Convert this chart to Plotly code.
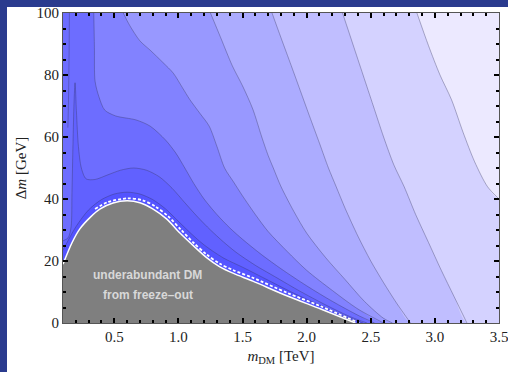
import plotly.graph_objects as go

# ---------------- data ----------------
XMIN, XMAX = 0.1, 3.5
YMIN, YMAX = 0.0, 100.0

# boundary of the underabundant (grey) region
x_gray = [0.1, 0.17, 0.23, 0.31, 0.39, 0.49, 0.6, 0.7, 0.8, 0.91, 1.01, 1.12, 1.22, 1.32, 1.43, 1.58, 1.85, 2.11, 2.38]
y_gray = [19, 25.9, 30.3, 34, 36.8, 38.7, 39.4, 38.8, 36.8, 33.5, 29.1, 24.8, 21.1, 18.2, 16.0, 13.5, 8.7, 4.5, 0]

# dashed white curve just above it
x_dash = [0.35, 0.45, 0.6, 0.72, 0.82, 0.92, 1.02, 1.12, 1.22, 1.32, 1.43, 1.58, 1.85, 2.11, 2.41]
y_dash = [36.8, 39.0, 40.2, 39.6, 37.6, 34.4, 30.1, 25.8, 22.1, 19.2, 17.0, 14.6, 9.7, 5.4, 0]

# contour levels, from the grey region outwards
x_lvl1 = [0.1, 0.2, 0.3, 0.4, 0.5, 0.6, 0.7, 0.8, 0.9, 1.0, 1.1, 1.2, 1.35, 1.5, 1.7, 1.9, 2.1, 2.3, 2.44]
y_lvl1 = [23.5, 31, 36.5, 39.8, 41.6, 42.2, 41.6, 39.8, 36.8, 32.8, 28.8, 25.2, 21.0, 18.0, 13.8, 9.6, 5.8, 2.2, 0]

x_lvl2 = [0.1, 0.14, 0.163, 0.17, 0.178, 0.186, 0.194, 0.205, 0.22, 0.243, 0.28, 0.35, 0.45, 0.55, 0.65, 0.75, 0.85, 0.95, 1.05, 1.15, 1.25, 1.35, 1.45, 1.6, 1.75, 1.95, 2.15, 2.33, 2.47]
y_lvl2 = [26.5, 27.5, 31, 42, 58, 71, 77.5, 68, 57, 50, 46.5, 46.3, 47.8, 49.3, 50, 49.3, 47.2, 43.5, 38.8, 34.2, 30, 26.2, 22.8, 18.6, 15, 10.2, 5.8, 2.2, 0]

x_lvl3 = [0.34, 0.345, 0.35, 0.38, 0.425, 0.51, 0.67, 0.78, 0.9, 0.98, 1.05, 1.12, 1.2, 1.3, 1.4, 1.5, 1.65, 1.8, 2.0, 2.2, 2.4, 2.53]
y_lvl3 = [100, 89, 78, 73, 68.7, 66.8, 65.5, 63.5, 59, 54.8, 50, 45, 40, 35, 30.7, 27, 22, 17.5, 12, 7, 2.5, 0]

x_lvl4 = [0.57, 0.62, 0.7, 0.78, 0.88, 0.96, 1.03, 1.09, 1.17, 1.24, 1.3, 1.36, 1.43, 1.5, 1.6, 1.7, 1.85, 2.0, 2.2, 2.4, 2.6]
y_lvl4 = [100, 96, 91, 88, 84, 80.6, 76, 72, 67.5, 63.5, 57, 50, 45.5, 41, 35, 29.5, 23, 17, 10.5, 4.5, 0]

x_lvl5 = [1.25, 1.33, 1.42, 1.5, 1.58, 1.65, 1.7, 1.74, 1.8, 1.9, 2.0, 2.15, 2.3, 2.45, 2.6, 2.67]
y_lvl5 = [100, 92, 83, 76.5, 69, 60, 54, 50, 44, 36, 29, 21, 14, 7, 1.5, 0]

x_lvl6 = [1.73, 1.8, 1.88, 1.95, 2.02, 2.1, 2.17, 2.23, 2.3, 2.4, 2.5, 2.6, 2.7, 2.81]
y_lvl6 = [100, 92, 83, 75, 67, 58, 50, 44, 37, 28, 20, 13, 6.5, 0]

x_lvl7 = [2.28, 2.36, 2.44, 2.52, 2.6, 2.68, 2.76, 2.85, 2.95, 3.05, 3.15, 3.25]
y_lvl7 = [100, 90, 80, 70, 60, 51, 44, 35, 26, 17, 8.5, 0]

x_lvl8 = [2.86, 2.95, 3.04, 3.13, 3.22, 3.31, 3.41, 3.5]
y_lvl8 = [100, 89.5, 80, 72, 61.5, 52, 44, 40]

# thin contour line near the left edge
x_thin = [0.15, 0.147, 0.143, 0.138]
y_thin = [100, 85, 72, 63]

band_colors = ["#5454ff", "#6161ff", "#6d6dff", "#8282ff", "#9898ff",
               "#acacff", "#c0beff", "#d4d2ff", "#ece9ff"]

x_ticks = [0.5, 1.0, 1.5, 2.0, 2.5, 3.0, 3.5]
x_ticklabels = ["0.5", "1.0", "1.5", "2.0", "2.5", "3.0", "3.5"]
y_ticks = [0, 20, 40, 60, 80, 100]
y_ticklabels = ["0", "20", "40", "60", "80", "100"]

label_line1 = "underabundant DM"
label_line2 = "from freeze\u2013out"
label_x = 0.76
label_y1 = 15.5
label_y2 = 9.0

# ---------------- figure ----------------
fig = go.Figure()

# base band (darkest) fills the whole frame
fig.add_trace(go.Scatter(x=[XMIN, XMAX, XMAX, XMIN], y=[YMIN, YMIN, YMAX, YMAX],
                         fill="toself", fillcolor=band_colors[0], mode="none",
                         hoverinfo="skip", showlegend=False))

levels = [(x_lvl1, y_lvl1, "left"), (x_lvl2, y_lvl2, "left"), (x_lvl3, y_lvl3, "top"),
          (x_lvl4, y_lvl4, "top"), (x_lvl5, y_lvl5, "top"), (x_lvl6, y_lvl6, "top"),
          (x_lvl7, y_lvl7, "top"), (x_lvl8, y_lvl8, "right")]

for i, (xs, ys, kind) in enumerate(levels):
    if kind == "left":
        px = list(xs) + [XMAX, XMAX, XMIN]
        py = list(ys) + [YMIN, YMAX, YMAX]
    elif kind == "top":
        px = list(xs) + [XMAX, XMAX]
        py = list(ys) + [YMIN, YMAX]
    else:
        px = list(xs) + [XMAX]
        py = list(ys) + [YMAX]
    fig.add_trace(go.Scatter(x=px, y=py, fill="toself", fillcolor=band_colors[i + 1],
                             mode="none", line=dict(shape="spline", smoothing=0.8),
                             hoverinfo="skip", showlegend=False))

# contour lines
for xs, ys, _ in levels:
    fig.add_trace(go.Scatter(x=xs, y=ys, mode="lines",
                             line=dict(color="rgba(50,50,90,0.45)", width=0.8,
                                       shape="spline", smoothing=0.8),
                             hoverinfo="skip", showlegend=False))
fig.add_trace(go.Scatter(x=x_thin, y=y_thin, mode="lines",
                         line=dict(color="rgba(50,50,90,0.45)", width=0.8, shape="spline"),
                         hoverinfo="skip", showlegend=False))

# grey region
fig.add_trace(go.Scatter(x=list(x_gray) + [XMIN], y=list(y_gray) + [YMIN],
                         fill="toself", fillcolor="#7f7f7f", mode="none",
                         line=dict(shape="spline", smoothing=0.8),
                         hoverinfo="skip", showlegend=False))
fig.add_trace(go.Scatter(x=x_gray, y=y_gray, mode="lines",
                         line=dict(color="white", width=1.5, shape="spline", smoothing=0.8),
                         hoverinfo="skip", showlegend=False))
fig.add_trace(go.Scatter(x=x_dash, y=y_dash, mode="lines",
                         line=dict(color="white", width=1.8, dash="3px,2px",
                                   shape="spline", smoothing=0.8),
                         hoverinfo="skip", showlegend=False))

fig.add_annotation(x=label_x, y=label_y1, text=label_line1, showarrow=False,
                   font=dict(family="Liberation Sans, Arial", size=12, color="#d8d8d8", weight="bold"))
fig.add_annotation(x=label_x, y=label_y2, text=label_line2, showarrow=False,
                   font=dict(family="Liberation Sans, Arial", size=12, color="#d8d8d8", weight="bold"))

# white slide panel behind the chart
fig.add_shape(type="rect", xref="paper", yref="paper",
              x0=(7 - 63) / 436, x1=1.2, y0=-0.5, y1=(323 - 7) / 310,
              fillcolor="white", line=dict(width=0), layer="below")

serif = "Liberation Serif, Times New Roman, serif"
axis_common = dict(showgrid=False, zeroline=False, showline=True, linecolor="#555",
                   linewidth=1, mirror="allticks", ticks="inside", ticklen=5,
                   tickwidth=1.6, tickcolor="black", automargin=False,
                   ticklabeloverflow="allow",
                   tickfont=dict(family=serif, size=15, color="#222"))

fig.update_xaxes(range=[XMIN, XMAX], tickvals=x_ticks, ticktext=x_ticklabels,
                 minor=dict(ticks="inside", dtick=0.1, tick0=0.1, ticklen=3,
                            tickwidth=1.6, tickcolor="black"),
                 title=dict(text="<i>m</i><sub>DM</sub> [TeV]",
                            font=dict(family=serif, size=15, color="#222"), standoff=6),
                 **axis_common)
fig.update_yaxes(range=[YMIN, YMAX], tickvals=y_ticks, ticktext=y_ticklabels,
                 minor=dict(ticks="inside", dtick=5, tick0=0, ticklen=3,
                            tickwidth=1.6, tickcolor="black"),
                 title=dict(text="\u0394<i>m</i> [GeV]",
                            font=dict(family=serif, size=15, color="#222"), standoff=6),
                 **axis_common)

fig.update_layout(width=508, height=372,
                  margin=dict(l=63, r=9, t=13, b=49, autoexpand=False),
                  paper_bgcolor="#2a3b8e", plot_bgcolor="white",
                  showlegend=False)

fig.write_html("out.html", config={"displayModeBar": False},
               post_script="document.body.style.margin='0';document.body.style.padding='0';")
